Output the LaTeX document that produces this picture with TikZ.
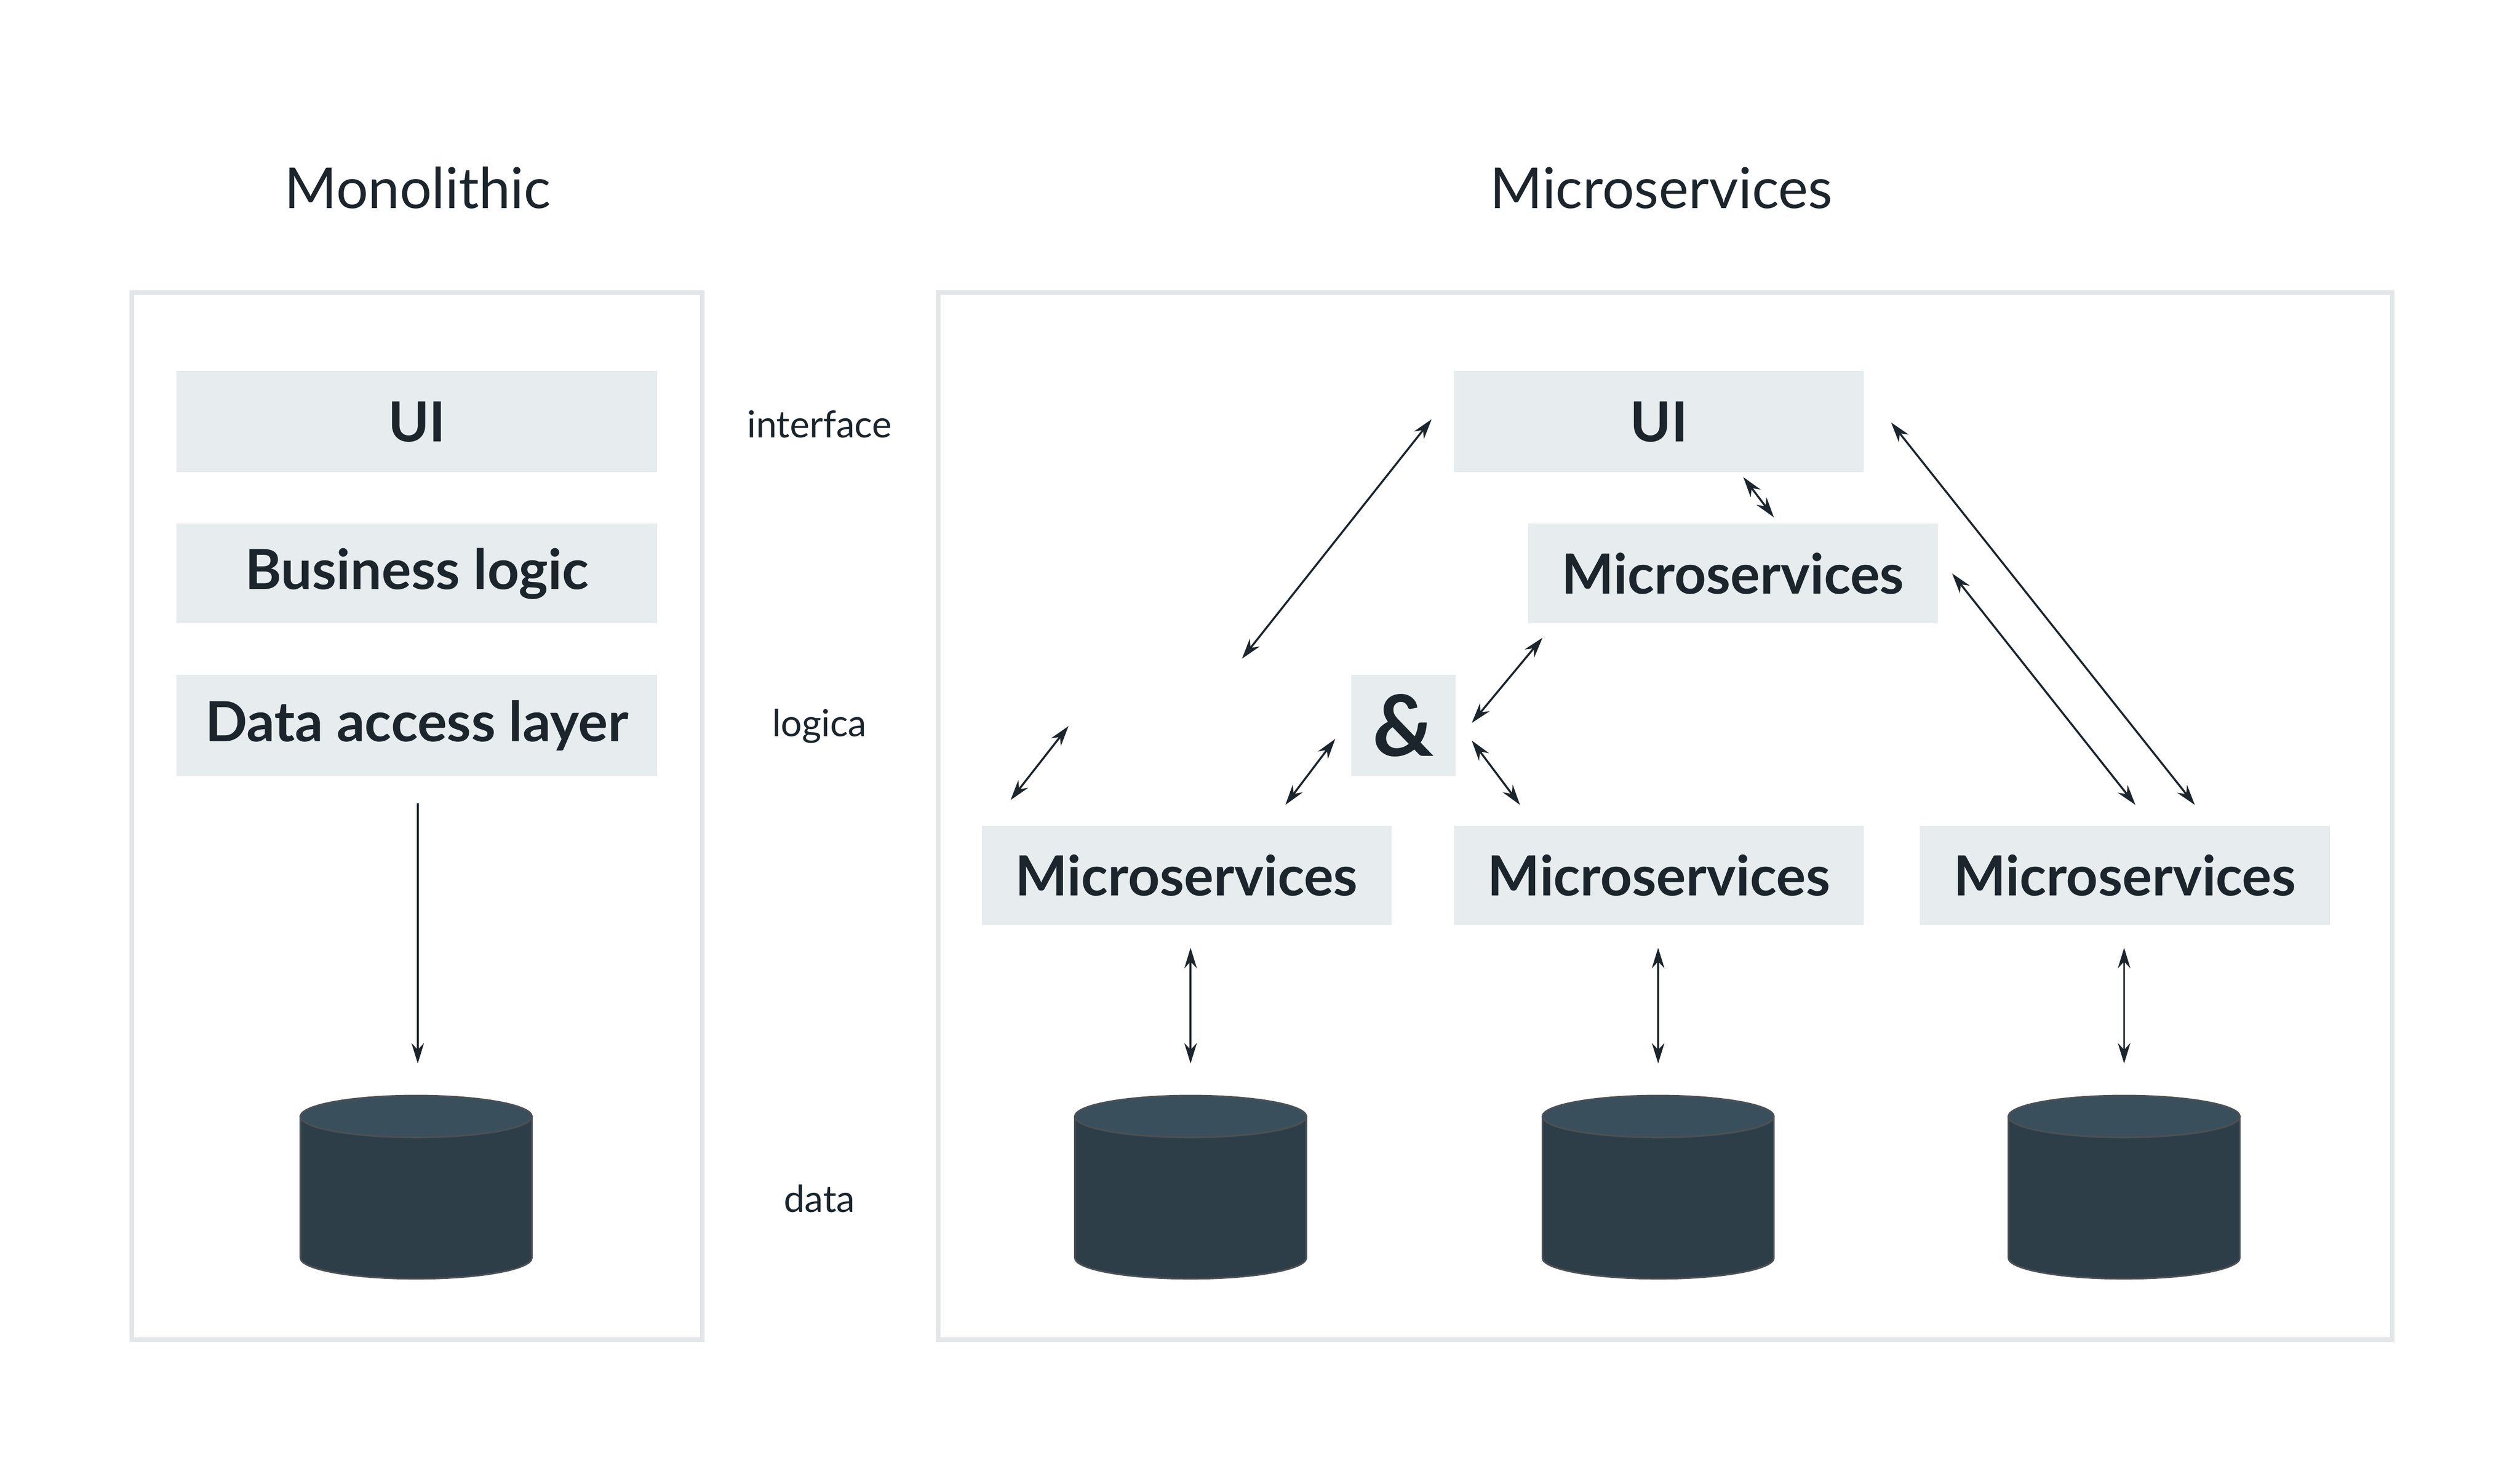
\documentclass[tikz,border=0pt]{standalone}
\usepackage{fontspec}
\setmainfont{Lato}
\usetikzlibrary{arrows.meta}
\definecolor{BoxGrey}{HTML}{E7ECEF}
\definecolor{FrameGrey}{HTML}{E3E6E8}
\definecolor{InkDark}{HTML}{1B252B}
\definecolor{DbBody}{HTML}{2E3E48}
\definecolor{DbTop}{HTML}{3A4F5C}
\tikzset{
  panel/.style={draw=FrameGrey, line width=0.8pt},
  layerbox/.style={rectangle, fill=BoxGrey, inner sep=0pt, text=InkDark, font=\fontsize{9.8}{11}\selectfont\bfseries},
  title/.style={text=InkDark, font=\fontsize{10}{11}\selectfont},
  tier/.style={text=InkDark, font=\fontsize{6.6}{7}\selectfont},
  arrow/.style={-{Stealth[length=3.6pt,width=2.2pt]}, InkDark, line width=0.35pt},
  twoway/.style={{Stealth[length=3.6pt,width=2.2pt]}-{Stealth[length=3.6pt,width=2.2pt]}, InkDark, line width=0.35pt}
}
% one database drum, centred at x, top ellipse at y
\newcommand{\dbdrum}[2]{%
  \fill[DbBody, draw=InkDark!80, line width=0.3pt] (#1-72,#2) -- (#1-72,#2+88) arc[start angle=180, end angle=0, x radius=72, y radius=13] -- (#1+72,#2) -- cycle;
  \fill[DbTop, draw=InkDark!80, line width=0.3pt] (#1,#2) ellipse[x radius=72, y radius=13];
}
\begin{document}
\begin{tikzpicture}[x=0.01cm, y=-0.01cm]
  \useasboundingbox (0,0) rectangle (1568.4,922.3);

  % titles and tiers
  \node[title] (monotitle) at (260,117) {Monolithic};
  \node[title] (microtitle) at (1034,117) {Microservices};
  \node[tier] (interface) at (510,264) {interface};
  \node[tier] (logica) at (510,452) {logica};
  \node[tier] (data) at (510,746) {data};

  % panels
  \draw[panel] (82,182) rectangle (437,834);
  \draw[panel] (584,182) rectangle (1489,834);

  % monolithic stack
  \node[layerbox, minimum width=2.99cm, minimum height=0.63cm] (monoui) at (259.5,262.5) {UI};
  \node[layerbox, minimum width=2.99cm, minimum height=0.62cm] (monobl) at (259.5,357) {Business logic};
  \node[layerbox, minimum width=2.99cm, minimum height=0.63cm] (monodal) at (259.5,451.5) {Data access layer};
  \coordinate (monotop) at (260,500);
  \coordinate (monodb) at (260,662);
  \draw[arrow] (monotop) -- (monodb);
  \dbdrum{259}{695}

  % microservices
  \node[layerbox, minimum width=2.55cm, minimum height=0.63cm] (ui) at (1032.5,262.5) {UI};
  \node[layerbox, minimum width=2.55cm, minimum height=0.62cm] (mstop) at (1078.5,357) {Microservices};
  \node[layerbox, minimum width=0.65cm, minimum height=0.63cm, font=\fontsize{15}{15}\selectfont\bfseries] (amp) at (873.5,451.5) {\&};
  \node[layerbox, minimum width=2.55cm, minimum height=0.62cm] (msa) at (738.5,545) {Microservices};
  \node[layerbox, minimum width=2.55cm, minimum height=0.62cm] (msb) at (1032.5,545) {Microservices};
  \node[layerbox, minimum width=2.55cm, minimum height=0.62cm] (msc) at (1322.5,545) {Microservices};

  \foreach \x/\n in {741/a, 1032/b, 1322/c} {
    \coordinate (up\n) at (\x,590);
    \coordinate (down\n) at (\x,662);
    \draw[twoway] (up\n) -- (down\n);
    \dbdrum{\x}{695}
  }

  % loose connectors
  \coordinate (p1) at (773,410);  \coordinate (q1) at (891,261);
  \coordinate (p2) at (629,498);  \coordinate (q2) at (665,452);
  \coordinate (p3) at (800,501);  \coordinate (q3) at (831,460);
  \coordinate (p4) at (916,450);  \coordinate (q4) at (960,397);
  \coordinate (p5) at (916,461);  \coordinate (q5) at (946,501);
  \coordinate (p6) at (1085,297); \coordinate (q6) at (1104,322);
  \coordinate (p7) at (1177,263); \coordinate (q7) at (1366,501);
  \coordinate (p8) at (1215,357); \coordinate (q8) at (1329,501);
  \foreach \i in {1,...,8}
    \draw[twoway] (p\i) -- (q\i);
\end{tikzpicture}
\end{document}
